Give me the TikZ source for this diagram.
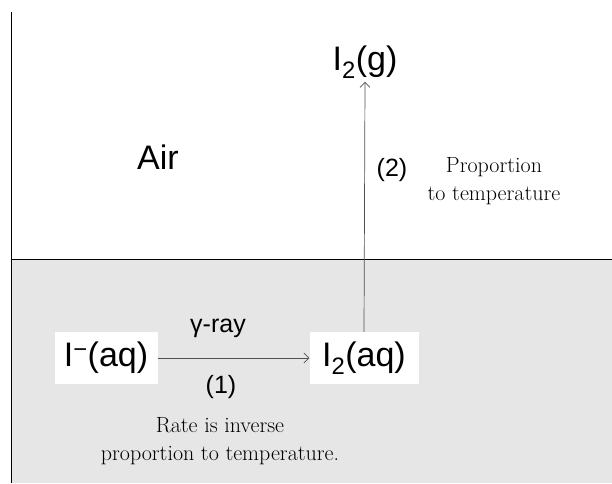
\documentclass[tikz,border=0pt]{standalone}
\usepackage{fontspec}
\usepackage{tikz}
\usetikzlibrary{arrows,arrows.meta,positioning}
\newfontfamily\arialfont{Liberation Sans}
\definecolor{waterGray}{RGB}{230,230,230}
\definecolor{lineGray}{RGB}{80,80,80}

\begin{document}
\begin{tikzpicture}[x=1pt,y=-1pt,
    species/.style={fill=white, inner sep=0pt, minimum height=52pt, font=\arialfont\fontsize{34}{38}\selectfont},
    gas/.style={font=\arialfont\fontsize{34}{38}\selectfont},
    tag/.style={font=\arialfont\fontsize{25}{28}\selectfont},
    note/.style={align=center, font=\fontsize{22}{28}\selectfont},
    react/.style={-{Straight Barb[length=5pt,width=10pt]}, lineGray, line width=0.7pt}]
    \useasboundingbox (0,0) rectangle (612,483);
    % water below, air above
    \fill[waterGray] (11,259) rectangle (612,483);
    \draw[line width=0.8pt] (11,259) -- (612,259);
    \draw[line width=0.8pt] (11,12) -- (11,483);

    \node[gas] (air) at (158,157) {Air};
    \node[species, minimum width=103pt] (Iaq) at (106,358) {I\textsuperscript{−}(aq)};
    \node[species, minimum width=109pt] (I2aq) at (364,358) {I\textsubscript{2}(aq)};
    \node[gas] (I2g) at (365,62) {I\textsubscript{2}(g)};

    \node[tag] (gamma) at (218,328) {γ-ray};
    \node[tag] (one) at (221,387) {(1)};
    \node[tag] (two) at (392,170) {(2)};
    \node[note] (rate) at (220,441) {Rate is inverse\\proportion to temperature.};
    \node[note] (prop) at (494,181) {Proportion\\to temperature};

    \draw[react] (Iaq) -- (I2aq);
    \draw[react] (I2aq.north) -- (I2g.south);
\end{tikzpicture}
\end{document}
